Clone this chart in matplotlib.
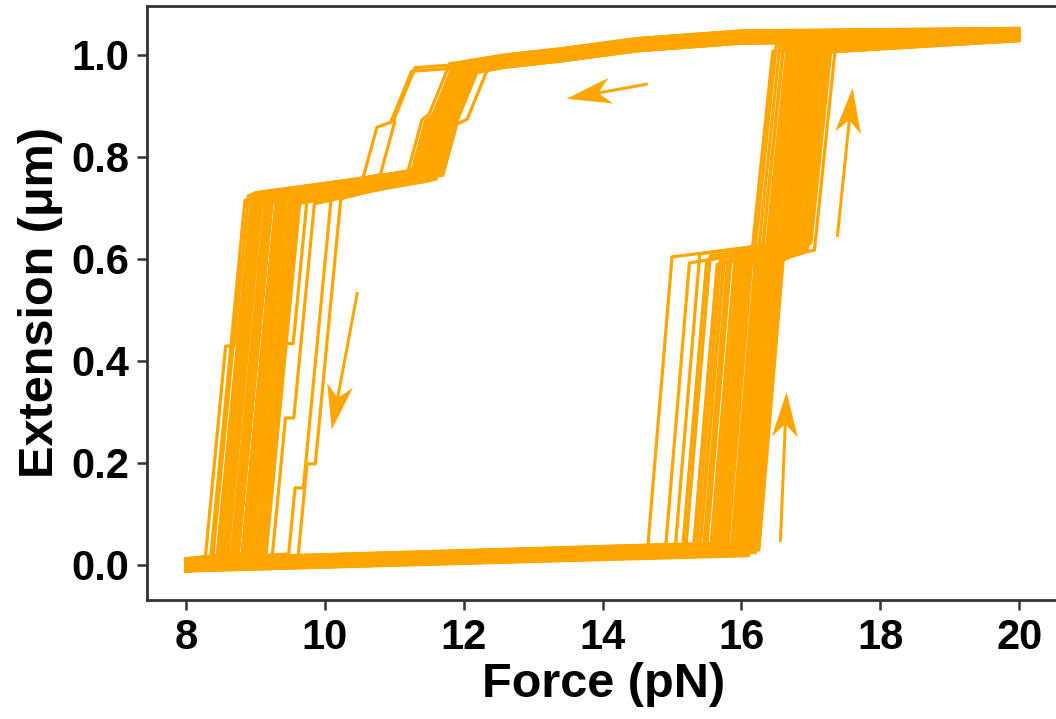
import matplotlib
matplotlib.use("Agg")
import matplotlib.pyplot as plt
from matplotlib.patches import FancyArrow

plt.rcParams['font.family'] = ['Liberation Sans', 'DejaVu Sans']
plt.rcParams['font.weight'] = 'bold'

# transition forces (pN) read for each pulling cycle
# unfolding: leave baseline, leave the 0.62 um intermediate
unfold_f1 = [14.65, 14.9, 15.05, 15.15, 15.2, 15.3, 15.35, 15.4, 15.45, 15.5, 15.55, 15.6,
             15.62, 15.68, 15.7, 15.72, 15.75, 15.78, 15.8, 15.85, 15.88, 15.9, 15.92, 15.95,
             15.98, 16.0, 16.0, 16.02, 16.05, 16.08, 16.1, 16.12, 16.15, 16.18, 16.2, 16.22,
             15.4, 15.5, 15.6, 15.7, 15.8, 15.9, 16.0, 16.1, 16.2, 16.25, 15.65, 15.85, 16.05, 15.95]
unfold_f2 = [16.2, 16.15, 16.5, 16.3, 16.7, 16.4, 16.25, 16.6, 16.45, 16.8, 16.35, 16.55,
             16.9, 16.4, 16.65, 16.5, 16.75, 16.45, 16.6, 16.85, 16.55, 16.7, 16.95, 16.5,
             16.65, 16.8, 16.6, 16.75, 16.9, 16.7, 16.55, 17.0, 16.8, 16.65, 16.85, 16.95,
             16.3, 16.45, 16.6, 16.75, 16.9, 17.05, 16.5, 16.65, 16.8, 16.95, 16.4, 16.7, 16.85, 16.6]
# refolding: first drop from the top branch, second drop, final collapse
refold_f1 = [12.2, 12.15, 12.1, 12.05, 12.0, 11.95, 12.1, 12.2, 11.9, 12.0, 12.05, 12.15,
             11.85, 12.0, 12.1, 11.95, 12.2, 12.05, 11.3, 11.25, 11.9, 12.0, 12.1, 12.15,
             11.95, 12.05, 12.35, 11.8, 12.0, 12.1, 11.9, 12.2, 12.05, 11.95, 12.1, 12.0,
             12.0, 11.9, 12.1, 11.95, 12.05, 12.15, 11.85, 12.0, 12.1, 11.9, 12.05, 11.95, 12.2, 12.0]
refold_f2 = [11.8, 11.7, 11.75, 11.6, 11.55, 11.7, 11.85, 11.9, 11.5, 11.65, 11.8, 11.75,
             11.45, 11.6, 11.7, 11.55, 11.8, 11.65, 11.0, 10.75, 11.6, 11.7, 11.8, 11.85,
             11.6, 11.75, 11.9, 11.4, 11.65, 11.8, 11.55, 11.85, 11.7, 11.5, 11.75, 11.6,
             11.6, 11.5, 11.7, 11.55, 11.65, 11.75, 11.45, 11.6, 11.7, 11.5, 11.65, 11.55, 11.8, 11.6]
refold_f3 = [8.9, 8.95, 9.0, 9.05, 9.1, 9.15, 9.2, 9.25, 9.3, 9.35, 9.4, 9.45,
             9.5, 9.55, 9.6, 9.65, 9.0, 9.1, 9.2, 9.3, 9.4, 9.5, 8.95, 9.05,
             9.15, 9.25, 9.35, 9.45, 9.55, 9.75, 9.85, 10.1, 10.23, 9.0, 9.2, 9.4,
             8.85, 8.95, 9.05, 9.15, 9.25, 9.35, 9.45, 9.55, 9.6, 9.0, 9.1, 9.3, 9.5, 9.2]
# intermediate level during the collapse (0 = none), um
collapse_step = [0.425, 0, 0, 0, 0, 0, 0, 0, 0, 0, 0, 0,
                 0, 0, 0, 0, 0.61, 0, 0, 0, 0, 0, 0, 0,
                 0, 0, 0, 0, 0, 0.43, 0.3, 0.14, 0.2, 0, 0, 0,
                 0, 0, 0, 0, 0, 0, 0, 0, 0, 0, 0, 0, 0, 0]
# extension drift of each trace (um)
drift = [0.004, -0.008, 0.010, -0.002, 0.006, -0.011, 0.001, 0.008, -0.005, 0.012, -0.009, 0.003,
         -0.003, 0.009, -0.012, 0.005, -0.006, 0.011, 0.0, -0.007, 0.007, -0.010, 0.002, 0.010,
         -0.004, 0.006, -0.001, 0.008, -0.008, 0.004, -0.012, 0.011, -0.002, 0.003, -0.006, 0.009,
         -0.005, 0.007, -0.009, 0.002, 0.012, -0.003, 0.005, -0.011, 0.009, -0.001, 0.004, -0.007,
         0.010, -0.004]

# extension levels (um)
base_lo, base_hi = 0.0, 0.03
mid_lo, mid_hi = 0.60, 0.62
top_F = [20.0, 16.0, 14.5, 13.4, 12.6]
top_x = [1.04, 1.035, 1.02, 1.0, 0.988]
lvl_a, lvl_b, lvl_c, lvl_d = 0.975, 0.875, 0.865, 0.765
lvl_e = 0.72

# arrows (data coords): tail, tip
arrow_tail = [(14.65, 0.943), (10.47, 0.535), (17.38, 0.643), (16.56, 0.045)]
arrow_tip = [(13.48, 0.914), (10.10, 0.265), (17.60, 0.935), (16.65, 0.339)]

color = 'orange'

fig = plt.figure(figsize=(10.56, 7.19), dpi=100)
ax = fig.add_axes([0.1392, 0.1655, 0.8655, 0.8262])

for i in range(len(unfold_f1)):
    d = drift[i]
    F = [8.0, unfold_f1[i], unfold_f1[i] + 0.35, unfold_f2[i], unfold_f2[i] + 0.3]
    X = [base_lo, base_hi, mid_lo, mid_hi, 1.015]
    F += top_F
    X += top_x
    F += [refold_f1[i], refold_f1[i] - 0.3, refold_f2[i], refold_f2[i] - 0.2, refold_f3[i]]
    X += [lvl_a, lvl_b, lvl_c, lvl_d, lvl_e]
    s = collapse_step[i]
    if s > 0:
        fs = refold_f3[i] - 0.5 * (lvl_e - s) / 0.71
        F += [fs, fs - 0.12]
        X += [s, s]
        F += [refold_f3[i] - 0.62, 8.0]
    else:
        F += [refold_f3[i] - 0.5, 8.0]
    X += [0.01, base_lo]
    ax.plot(F, [x + d for x in X], color=color, lw=2.3)

ax.set_xlim(7.44, 20.6)
ax.set_ylim(-0.069, 1.096)
ax.set_xticks([8, 10, 12, 14, 16, 18, 20])
ax.set_yticks([0.0, 0.2, 0.4, 0.6, 0.8, 1.0])
ax.set_yticklabels(['0.0', '0.2', '0.4', '0.6', '0.8', '1.0'])
ax.tick_params(labelsize=30, length=7, width=1.8, pad=6, color='#333333')
for lab in ax.get_xticklabels() + ax.get_yticklabels():
    lab.set_fontweight('bold')
for sp in ['left', 'bottom', 'top']:
    ax.spines[sp].set_linewidth(2)
    ax.spines[sp].set_color('#333333')
ax.spines['right'].set_visible(False)

ax.set_xlabel('Force (pN)', fontsize=35, fontweight='bold', labelpad=3)
ax.set_ylabel('Extension (\u03bcm)', fontsize=35, fontweight='bold', labelpad=6)

# arrows drawn in inches so the heads keep their shape
to_in = ax.transData + fig.dpi_scale_trans.inverted()
for (x0, y0), (x1, y1) in zip(arrow_tail, arrow_tip):
    a = to_in.transform((x0, y0))
    b = to_in.transform((x1, y1))
    arr = FancyArrow(a[0], a[1], b[0] - a[0], b[1] - a[1], width=0.03,
                     head_width=0.26, head_length=0.45, overhang=0.25,
                     length_includes_head=True, color=color, lw=0,
                     transform=fig.dpi_scale_trans)
    fig.add_artist(arr)

plt.savefig('out.png', dpi=100)
